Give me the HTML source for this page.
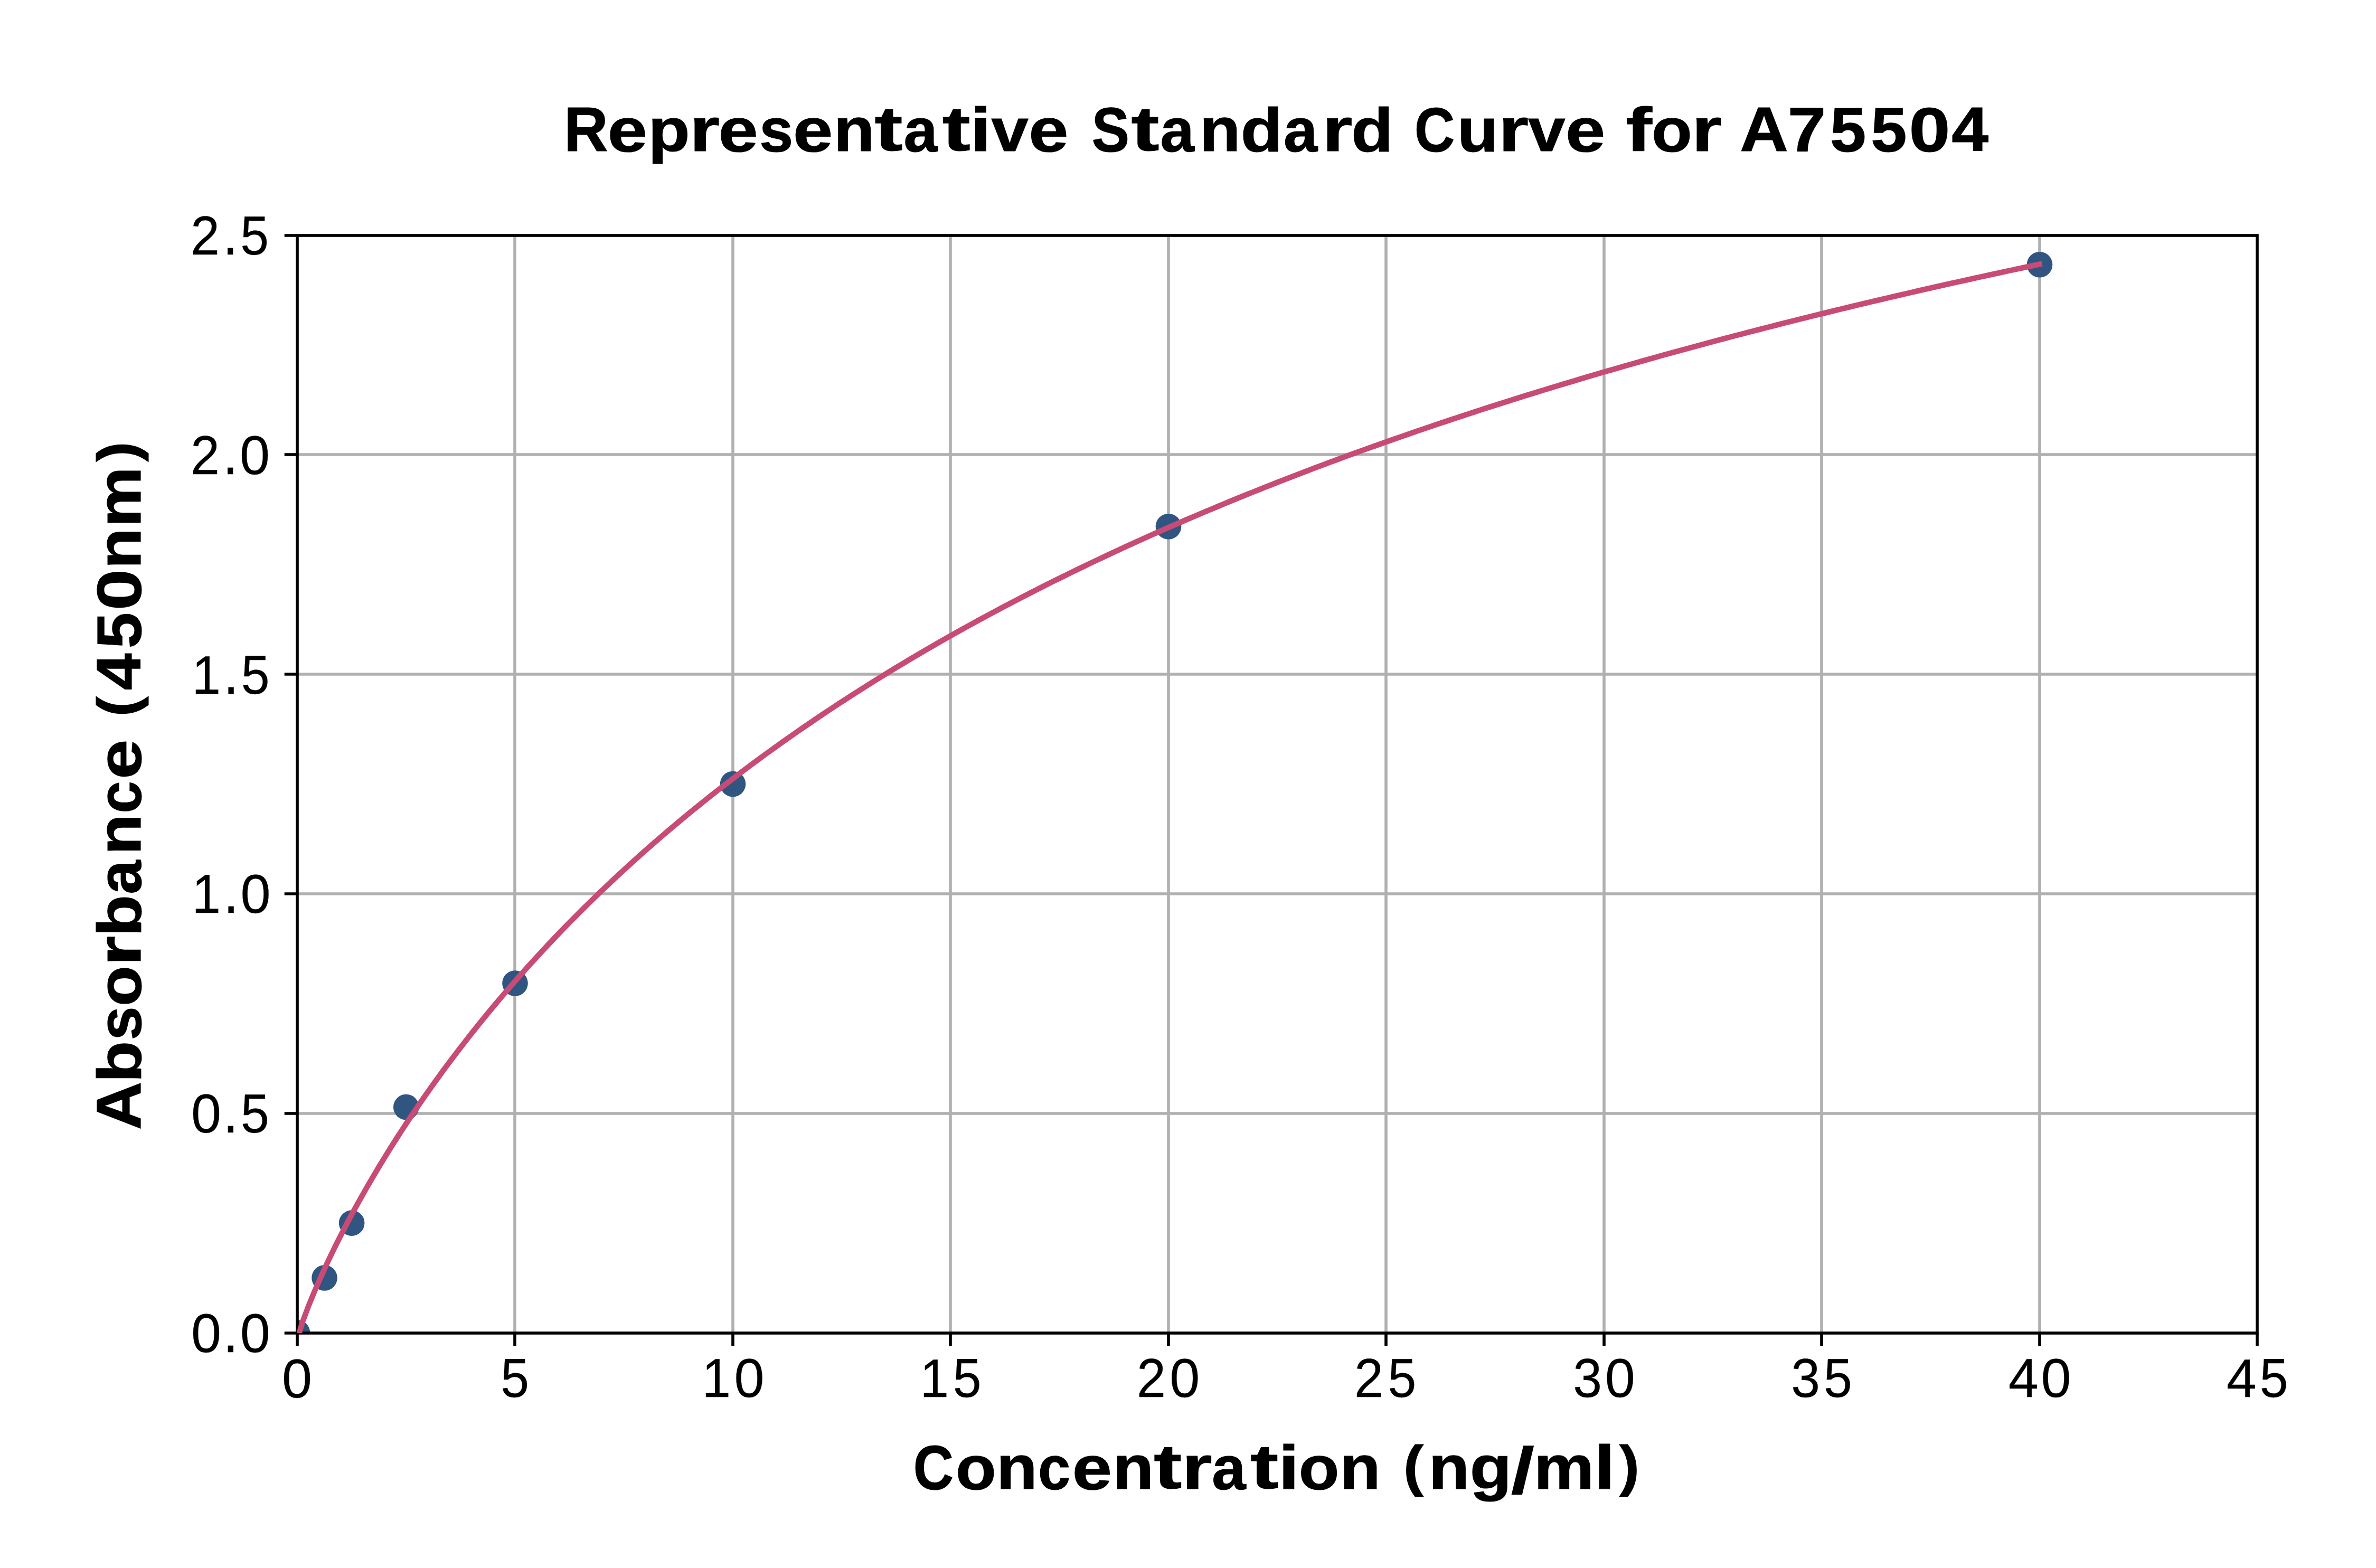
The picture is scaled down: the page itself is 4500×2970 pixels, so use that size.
<!DOCTYPE html><html><head><meta charset="utf-8"><style>html,body{margin:0;padding:0;background:#fff;width:4500px;height:2970px;overflow:hidden}svg{display:block}text{font-family:"Liberation Sans",sans-serif}</style></head><body>
<svg width="4500" height="2970" viewBox="0 0 4500 2970">
<rect x="0" y="0" width="4500" height="2970" fill="#fff"/>
<defs><clipPath id="ax"><rect x="563.0" y="446.0" width="3712.0" height="2079.0"/></clipPath></defs>
<path d="M975 446.0V2525.0M1388 446.0V2525.0M1800 446.0V2525.0M2213 446.0V2525.0M2625 446.0V2525.0M3038 446.0V2525.0M3450 446.0V2525.0M3863 446.0V2525.0M563.0 2109H4275.0M563.0 1693H4275.0M563.0 1277H4275.0M563.0 861H4275.0" stroke="#b0b0b0" stroke-width="5.57" fill="none"/>
<g clip-path="url(#ax)">
<circle cx="563.00" cy="2524.50" r="24.3" fill="#2f5580"/>
<circle cx="614.56" cy="2420.55" r="24.3" fill="#2f5580"/>
<circle cx="666.12" cy="2316.60" r="24.3" fill="#2f5580"/>
<circle cx="769.25" cy="2097.06" r="24.3" fill="#2f5580"/>
<circle cx="975.50" cy="1862.55" r="24.3" fill="#2f5580"/>
<circle cx="1388.00" cy="1485.00" r="24.3" fill="#2f5580"/>
<circle cx="2213.00" cy="997.27" r="24.3" fill="#2f5580"/>
<circle cx="3863.00" cy="501.22" r="24.3" fill="#2f5580"/>
</g>
<rect x="563.0" y="446.0" width="3712.0" height="2079.0" fill="none" stroke="#000" stroke-width="5.62" stroke-linejoin="miter"/>
<polyline clip-path="url(#ax)" points="562.50,2538.39 573.54,2502.31 584.57,2473.03 595.61,2446.13 606.65,2420.80 617.68,2396.67 628.72,2373.50 639.76,2351.15 650.79,2329.51 661.83,2308.51 672.87,2288.09 683.90,2268.19 694.94,2248.77 705.98,2229.80 717.02,2211.25 728.05,2193.09 739.09,2175.31 750.13,2157.87 761.16,2140.77 772.20,2123.98 783.24,2107.50 794.27,2091.30 805.31,2075.39 816.35,2059.73 827.38,2044.34 838.42,2029.18 849.46,2014.27 860.49,1999.59 871.53,1985.12 882.57,1970.87 893.60,1956.83 904.64,1942.99 915.68,1929.34 926.71,1915.88 937.75,1902.61 948.79,1889.51 959.82,1876.59 970.86,1863.84 981.90,1851.25 992.93,1838.82 1003.97,1826.55 1015.01,1814.43 1026.05,1802.46 1037.08,1790.63 1048.12,1778.94 1059.16,1767.40 1070.19,1755.99 1081.23,1744.71 1092.27,1733.56 1103.30,1722.54 1114.34,1711.64 1125.38,1700.86 1136.41,1690.20 1147.45,1679.66 1158.49,1669.23 1169.52,1658.91 1180.56,1648.71 1191.60,1638.61 1202.63,1628.61 1213.67,1618.72 1224.71,1608.93 1235.74,1599.24 1246.78,1589.65 1257.82,1580.15 1268.85,1570.75 1279.89,1561.44 1290.93,1552.22 1301.96,1543.09 1313.00,1534.05 1324.04,1525.09 1335.08,1516.22 1346.11,1507.43 1357.15,1498.73 1368.19,1490.10 1379.22,1481.55 1390.26,1473.09 1401.30,1464.70 1412.33,1456.38 1423.37,1448.14 1434.41,1439.97 1445.44,1431.88 1456.48,1423.85 1467.52,1415.90 1478.55,1408.01 1489.59,1400.19 1500.63,1392.44 1511.66,1384.76 1522.70,1377.14 1533.74,1369.58 1544.77,1362.09 1555.81,1354.65 1566.85,1347.28 1577.88,1339.97 1588.92,1332.72 1599.96,1325.53 1610.99,1318.40 1622.03,1311.32 1633.07,1304.30 1644.11,1297.34 1655.14,1290.43 1666.18,1283.57 1677.22,1276.77 1688.25,1270.02 1699.29,1263.33 1710.33,1256.68 1721.36,1250.08 1732.40,1243.54 1743.44,1237.04 1754.47,1230.60 1765.51,1224.20 1776.55,1217.85 1787.58,1211.54 1798.62,1205.28 1809.66,1199.07 1820.69,1192.90 1831.73,1186.78 1842.77,1180.70 1853.80,1174.67 1864.84,1168.68 1875.88,1162.73 1886.91,1156.82 1897.95,1150.96 1908.99,1145.13 1920.03,1139.35 1931.06,1133.60 1942.10,1127.90 1953.14,1122.24 1964.17,1116.61 1975.21,1111.02 1986.25,1105.47 1997.28,1099.96 2008.32,1094.49 2019.36,1089.05 2030.39,1083.65 2041.43,1078.28 2052.47,1072.95 2063.50,1067.65 2074.54,1062.39 2085.58,1057.17 2096.61,1051.97 2107.65,1046.81 2118.69,1041.69 2129.72,1036.60 2140.76,1031.54 2151.80,1026.51 2162.83,1021.51 2173.87,1016.55 2184.91,1011.61 2195.94,1006.71 2206.98,1001.84 2218.02,997.00 2229.06,992.18 2240.09,987.40 2251.13,982.65 2262.17,977.93 2273.20,973.23 2284.24,968.56 2295.28,963.93 2306.31,959.32 2317.35,954.73 2328.39,950.18 2339.42,945.65 2350.46,941.15 2361.50,936.67 2372.53,932.22 2383.57,927.80 2394.61,923.41 2405.64,919.04 2416.68,914.69 2427.72,910.37 2438.75,906.07 2449.79,901.80 2460.83,897.56 2471.86,893.33 2482.90,889.14 2493.94,884.96 2504.97,880.81 2516.01,876.68 2527.05,872.58 2538.09,868.50 2549.12,864.44 2560.16,860.40 2571.20,856.39 2582.23,852.39 2593.27,848.42 2604.31,844.47 2615.34,840.55 2626.38,836.64 2637.42,832.76 2648.45,828.89 2659.49,825.05 2670.53,821.23 2681.56,817.42 2692.60,813.64 2703.64,809.88 2714.67,806.14 2725.71,802.42 2736.75,798.71 2747.78,795.03 2758.82,791.37 2769.86,787.72 2780.89,784.10 2791.93,780.49 2802.97,776.90 2814.01,773.33 2825.04,769.78 2836.08,766.24 2847.12,762.73 2858.15,759.23 2869.19,755.75 2880.23,752.29 2891.26,748.84 2902.30,745.41 2913.34,742.00 2924.37,738.61 2935.41,735.23 2946.45,731.87 2957.48,728.53 2968.52,725.20 2979.56,721.89 2990.59,718.59 3001.63,715.31 3012.67,712.05 3023.70,708.80 3034.74,705.57 3045.78,702.36 3056.81,699.16 3067.85,695.97 3078.89,692.80 3089.92,689.65 3100.96,686.51 3112.00,683.38 3123.04,680.27 3134.07,677.18 3145.11,674.10 3156.15,671.03 3167.18,667.98 3178.22,664.94 3189.26,661.92 3200.29,658.91 3211.33,655.91 3222.37,652.93 3233.40,649.96 3244.44,647.00 3255.48,644.06 3266.51,641.14 3277.55,638.22 3288.59,635.32 3299.62,632.43 3310.66,629.56 3321.70,626.69 3332.73,623.84 3343.77,621.01 3354.81,618.18 3365.84,615.37 3376.88,612.57 3387.92,609.79 3398.95,607.01 3409.99,604.25 3421.03,601.50 3432.07,598.76 3443.10,596.04 3454.14,593.32 3465.18,590.62 3476.21,587.93 3487.25,585.25 3498.29,582.58 3509.32,579.93 3520.36,577.28 3531.40,574.65 3542.43,572.03 3553.47,569.41 3564.51,566.81 3575.54,564.23 3586.58,561.65 3597.62,559.08 3608.65,556.52 3619.69,553.98 3630.73,551.44 3641.76,548.92 3652.80,546.41 3663.84,543.90 3674.87,541.41 3685.91,538.93 3696.95,536.45 3707.98,533.99 3719.02,531.54 3730.06,529.10 3741.10,526.67 3752.13,524.24 3763.17,521.83 3774.21,519.43 3785.24,517.04 3796.28,514.65 3807.32,512.28 3818.35,509.91 3829.39,507.56 3840.43,505.21 3851.46,502.88 3862.50,500.55" fill="none" stroke="#c84b76" stroke-width="10.42" stroke-linecap="square" stroke-linejoin="round"/>
<path d="M563 2525.0V2549.3M975 2525.0V2549.3M1388 2525.0V2549.3M1800 2525.0V2549.3M2213 2525.0V2549.3M2625 2525.0V2549.3M3038 2525.0V2549.3M3450 2525.0V2549.3M3863 2525.0V2549.3M4275 2525.0V2549.3M563.0 2525H538.7M563.0 2109H538.7M563.0 1693H538.7M563.0 1277H538.7M563.0 861H538.7M563.0 446H538.7" stroke="#000" stroke-width="5.62" fill="none"/>
<g transform="translate(1065.81 286.33)" font-size="116.49" font-weight="bold" stroke="#000" stroke-width="1.2"><text transform="translate(2.48 0.00) scale(0.9903 1.0139)">R</text><text transform="translate(85.06 0.43) scale(1.1607 1.0029)">e</text><text transform="translate(161.73 -0.59) scale(1.1122 0.9838)">p</text><text transform="translate(240.15 0.00) scale(1.2594 0.9952)">r</text><text transform="translate(294.77 0.43) scale(1.1607 1.0029)">e</text><text transform="translate(372.38 0.43) scale(0.9871 1.0022)">s</text><text transform="translate(436.28 0.43) scale(1.1607 1.0029)">e</text><text transform="translate(513.15 0.00) scale(1.0873 0.9952)">n</text><text transform="translate(590.80 -1.03) scale(1.3673 1.0163)">t</text><text transform="translate(645.79 0.43) scale(0.9907 1.0029)">a</text><text transform="translate(718.91 -1.03) scale(1.3673 1.0163)">t</text><text transform="translate(771.95 0.00) scale(1.2162 1.0032)">i</text><text transform="translate(811.77 0.00) scale(1.0843 0.9906)">v</text><text transform="translate(882.52 0.43) scale(1.1607 1.0029)">e</text><text transform="translate(1001.99 0.41) scale(0.9166 1.0223)">S</text><text transform="translate(1076.65 -1.03) scale(1.3673 1.0163)">t</text><text transform="translate(1131.63 0.43) scale(0.9907 1.0029)">a</text><text transform="translate(1206.22 0.00) scale(1.0873 0.9952)">n</text><text transform="translate(1284.02 0.43) scale(1.1122 1.0083)">d</text><text transform="translate(1365.28 0.43) scale(0.9907 1.0029)">a</text><text transform="translate(1438.54 0.00) scale(1.2594 0.9952)">r</text><text transform="translate(1493.36 0.43) scale(1.1122 1.0083)">d</text><text transform="translate(1613.12 0.41) scale(0.9057 1.0223)">C</text><text transform="translate(1694.30 0.44) scale(1.0873 0.9977)">u</text><text transform="translate(1772.24 0.00) scale(1.2594 0.9952)">r</text><text transform="translate(1828.56 0.00) scale(1.0843 0.9906)">v</text><text transform="translate(1899.30 0.43) scale(1.1607 1.0029)">e</text><text transform="translate(2013.45 0.00) scale(1.2763 1.0032)">f</text><text transform="translate(2062.08 0.43) scale(1.0774 1.0029)">o</text><text transform="translate(2138.23 0.00) scale(1.2594 0.9952)">r</text><text transform="translate(2229.44 0.00) scale(1.0877 1.0139)">A</text><text transform="translate(2319.88 0.00) scale(1.1179 1.0139)">7</text><text transform="translate(2400.17 0.42) scale(1.0534 1.0191)">5</text><text transform="translate(2477.49 0.42) scale(1.0534 1.0191)">5</text><text transform="translate(2549.79 0.41) scale(1.2047 1.0223)">0</text><text transform="translate(2630.43 0.00) scale(1.0785 1.0139)">4</text></g>
<g transform="translate(1728.47 2820.33)" font-size="116.49" font-weight="bold" stroke="#000" stroke-width="1.2"><text transform="translate(1.21 0.41) scale(0.9057 1.0223)">C</text><text transform="translate(81.42 0.43) scale(1.0774 1.0029)">o</text><text transform="translate(158.88 0.00) scale(1.0873 0.9952)">n</text><text transform="translate(237.48 0.43) scale(0.9452 1.0029)">c</text><text transform="translate(302.37 0.43) scale(1.1607 1.0029)">e</text><text transform="translate(379.23 0.00) scale(1.0873 0.9952)">n</text><text transform="translate(456.89 -1.03) scale(1.3673 1.0163)">t</text><text transform="translate(510.15 0.00) scale(1.2594 0.9952)">r</text><text transform="translate(566.67 0.43) scale(0.9907 1.0029)">a</text><text transform="translate(639.80 -1.03) scale(1.3673 1.0163)">t</text><text transform="translate(692.84 0.00) scale(1.2162 1.0032)">i</text><text transform="translate(731.35 0.43) scale(1.0774 1.0029)">o</text><text transform="translate(808.81 0.00) scale(1.0873 0.9952)">n</text><text transform="translate(929.47 -7.37) scale(0.9843 0.9142)">(</text><text transform="translate(977.40 0.00) scale(1.0873 0.9952)">n</text><text transform="translate(1055.20 -0.33) scale(1.1146 0.9882)">g</text><text transform="translate(1133.55 7.84) scale(1.3505 1.0559)">/</text><text transform="translate(1176.41 0.00) scale(1.1037 0.9952)">m</text><text transform="translate(1290.89 0.00) scale(1.2162 1.0032)">l</text><text transform="translate(1338.32 -7.37) scale(0.9843 0.9142)">)</text></g>
<g transform="translate(266.33 2137.53) rotate(-90)" font-size="116.49" font-weight="bold" stroke="#000" stroke-width="1.2"><text transform="translate(-2.61 0.00) scale(1.0877 1.0139)">A</text><text transform="translate(86.80 0.43) scale(1.1122 1.0083)">b</text><text transform="translate(167.27 0.43) scale(0.9871 1.0022)">s</text><text transform="translate(231.56 0.43) scale(1.0774 1.0029)">o</text><text transform="translate(307.70 0.00) scale(1.2594 0.9952)">r</text><text transform="translate(363.63 0.43) scale(1.1122 1.0083)">b</text><text transform="translate(443.77 0.43) scale(0.9907 1.0029)">a</text><text transform="translate(518.36 0.00) scale(1.0873 0.9952)">n</text><text transform="translate(596.95 0.43) scale(0.9452 1.0029)">c</text><text transform="translate(661.84 0.43) scale(1.1607 1.0029)">e</text><text transform="translate(780.25 -7.37) scale(0.9843 0.9142)">(</text><text transform="translate(830.29 0.00) scale(1.0785 1.0139)">4</text><text transform="translate(909.31 0.42) scale(1.0534 1.0191)">5</text><text transform="translate(981.62 0.41) scale(1.2047 1.0223)">0</text><text transform="translate(1060.15 0.00) scale(1.0873 0.9952)">n</text><text transform="translate(1139.02 0.00) scale(1.1037 0.9952)">m</text><text transform="translate(1262.85 -7.37) scale(0.9843 0.9142)">)</text></g>
<g transform="translate(359.59 2561.00)" font-size="103.34" font-weight="normal" stroke="#000" stroke-width="0.3"><text transform="translate(2.40 0.37) scale(0.9930 1.0062)">0</text><text transform="translate(62.66 0.00) scale(1.0191 1.0922)">.</text><text transform="translate(95.19 0.37) scale(0.9930 1.0062)">0</text></g>
<g transform="translate(359.59 2145.00)" font-size="103.34" font-weight="normal" stroke="#000" stroke-width="0.3"><text transform="translate(2.40 0.37) scale(0.9930 1.0062)">0</text><text transform="translate(62.66 0.00) scale(1.0191 1.0922)">.</text><text transform="translate(96.42 0.37) scale(0.9368 1.0033)">5</text></g>
<g transform="translate(360.33 1729.00)" font-size="103.34" font-weight="normal" stroke="#000" stroke-width="0.3"><text transform="translate(3.22 0.00) scale(0.9481 0.9980)">1</text><text transform="translate(62.66 0.00) scale(1.0191 1.0922)">.</text><text transform="translate(95.19 0.37) scale(0.9930 1.0062)">0</text></g>
<g transform="translate(360.33 1313.72)" font-size="103.03" font-weight="normal" stroke="#000" stroke-width="0.3"><text transform="translate(3.22 0.00) scale(0.9504 0.9980)">1</text><text transform="translate(62.66 0.00) scale(1.0223 1.0922)">.</text><text transform="translate(96.41 0.37) scale(0.9392 1.0033)">5</text></g>
<g transform="translate(358.89 898.00)" font-size="103.34" font-weight="normal" stroke="#000" stroke-width="0.3"><text transform="translate(2.14 0.00) scale(0.9571 1.0011)">2</text><text transform="translate(62.66 0.00) scale(1.0191 1.0922)">.</text><text transform="translate(95.19 0.37) scale(0.9930 1.0062)">0</text></g>
<g transform="translate(358.89 482.00)" font-size="103.34" font-weight="normal" stroke="#000" stroke-width="0.3"><text transform="translate(2.14 0.00) scale(0.9571 1.0011)">2</text><text transform="translate(62.66 0.00) scale(1.0191 1.0922)">.</text><text transform="translate(96.42 0.37) scale(0.9368 1.0033)">5</text></g>
<g transform="translate(531.59 2647.00)" font-size="103.34" font-weight="normal" stroke="#000" stroke-width="0.3"><text transform="translate(2.40 0.37) scale(0.9930 1.0062)">0</text></g>
<g transform="translate(944.50 2645.72)" font-size="103.03" font-weight="normal" stroke="#000" stroke-width="0.3"><text transform="translate(3.63 0.37) scale(0.9392 1.0033)">5</text></g>
<g transform="translate(1326.33 2646.00)" font-size="103.34" font-weight="normal" stroke="#000" stroke-width="0.3"><text transform="translate(3.22 0.00) scale(0.9481 0.9980)">1</text><text transform="translate(64.28 0.37) scale(0.9930 1.0062)">0</text></g>
<g transform="translate(1739.33 2645.72)" font-size="103.03" font-weight="normal" stroke="#000" stroke-width="0.3"><text transform="translate(3.22 0.00) scale(0.9504 0.9980)">1</text><text transform="translate(65.50 0.37) scale(0.9392 1.0033)">5</text></g>
<g transform="translate(2150.89 2646.00)" font-size="103.34" font-weight="normal" stroke="#000" stroke-width="0.3"><text transform="translate(2.14 0.00) scale(0.9571 1.0011)">2</text><text transform="translate(64.28 0.37) scale(0.9930 1.0062)">0</text></g>
<g transform="translate(2562.89 2646.00)" font-size="103.34" font-weight="normal" stroke="#000" stroke-width="0.3"><text transform="translate(2.14 0.00) scale(0.9571 1.0011)">2</text><text transform="translate(65.51 0.37) scale(0.9368 1.0033)">5</text></g>
<g transform="translate(2975.59 2646.00)" font-size="103.34" font-weight="normal" stroke="#000" stroke-width="0.3"><text transform="translate(3.67 0.37) scale(0.9534 1.0062)">3</text><text transform="translate(64.28 0.37) scale(0.9930 1.0062)">0</text></g>
<g transform="translate(3388.59 2646.00)" font-size="103.34" font-weight="normal" stroke="#000" stroke-width="0.3"><text transform="translate(3.67 0.37) scale(0.9534 1.0062)">3</text><text transform="translate(65.51 0.37) scale(0.9368 1.0033)">5</text></g>
<g transform="translate(3801.27 2646.00)" font-size="103.34" font-weight="normal" stroke="#000" stroke-width="0.3"><text transform="translate(2.39 0.00) scale(0.9931 0.9980)">4</text><text transform="translate(64.28 0.37) scale(0.9930 1.0062)">0</text></g>
<g transform="translate(4214.27 2645.72)" font-size="103.03" font-weight="normal" stroke="#000" stroke-width="0.3"><text transform="translate(2.39 0.00) scale(0.9955 0.9980)">4</text><text transform="translate(65.50 0.37) scale(0.9392 1.0033)">5</text></g>
</svg></body></html>
